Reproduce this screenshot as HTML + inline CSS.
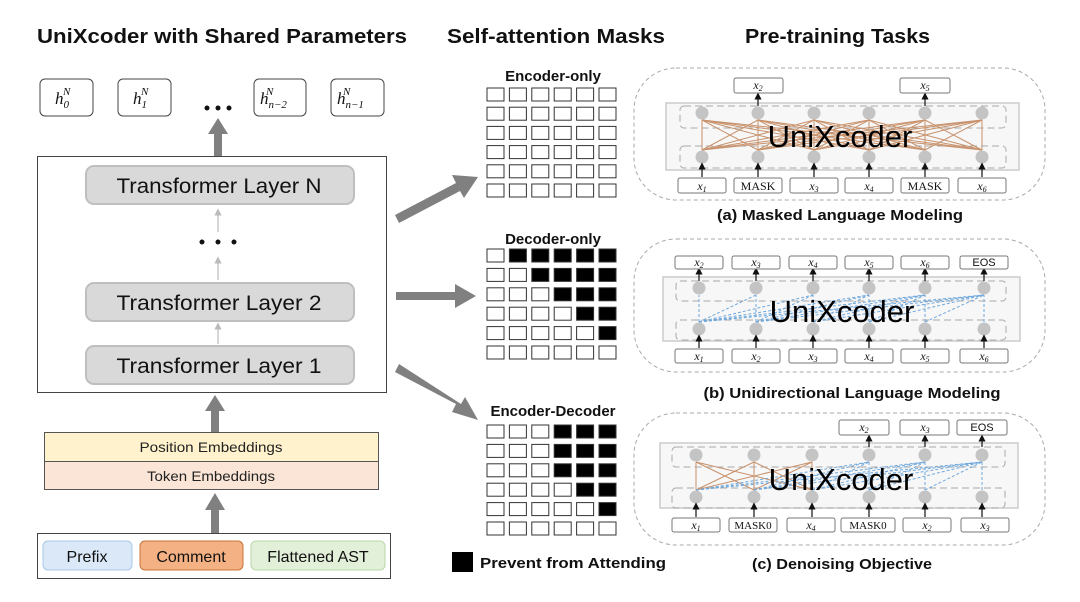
<!DOCTYPE html>
<html><head><meta charset="utf-8"><style>
body{margin:0;background:#fff}
svg{display:block;font-family:"Liberation Sans",sans-serif}
.t{font-weight:bold;fill:#111}
.m{font-family:"Liberation Serif",serif;font-style:italic}
</style></head><body>
<svg width="1080" height="602" viewBox="0 0 1080 602" xmlns="http://www.w3.org/2000/svg">
<defs>
<marker id="ah" markerWidth="6" markerHeight="6" refX="3" refY="3" orient="auto"><path d="M0,0L6,3L0,6z" fill="#111"/></marker>
<marker id="gh" markerWidth="6" markerHeight="6" refX="3" refY="3" orient="auto"><path d="M0,0L6,3L0,6z" fill="#bbb"/></marker>
</defs>
<text x="37" y="43" class="t" font-size="20" textLength="370" lengthAdjust="spacingAndGlyphs">UniXcoder with Shared Parameters</text>
<text x="447" y="43" class="t" font-size="20" textLength="218" lengthAdjust="spacingAndGlyphs">Self-attention Masks</text>
<text x="745" y="43" class="t" font-size="20" textLength="185" lengthAdjust="spacingAndGlyphs">Pre-training Tasks</text>

<g fill="#fff" stroke="#444" stroke-width="1">
<rect x="40" y="79" width="53" height="37" rx="5"/><rect x="118" y="79" width="53" height="37" rx="5"/>
<rect x="254" y="79" width="52" height="37" rx="5"/><rect x="331" y="79" width="53" height="37" rx="5"/>
</g>
<g class="m" font-size="17" fill="#111">
<text x="55" y="104">h<tspan font-size="11" dy="4">0</tspan><tspan font-size="11" dx="-6" dy="-13">N</tspan></text>
<text x="133" y="104">h<tspan font-size="11" dy="4">1</tspan><tspan font-size="11" dx="-6" dy="-13">N</tspan></text>
<text x="260" y="104">h<tspan font-size="11" dy="4">n−2</tspan><tspan font-size="11" dx="-21" dy="-13">N</tspan></text>
<text x="337" y="104">h<tspan font-size="11" dy="4">n−1</tspan><tspan font-size="11" dx="-21" dy="-13">N</tspan></text>
</g>
<g fill="#111"><circle cx="207" cy="108" r="2.5"/><circle cx="218" cy="108" r="2.5"/><circle cx="229" cy="108" r="2.5"/></g>
<g fill="#808080">
<rect x="214" y="133" width="8" height="24"/><path d="M208,134L218,118L228,134z"/>
<rect x="211" y="410" width="8" height="24"/><path d="M205,411L215,395L225,411z"/>
<rect x="211" y="508" width="8" height="26"/><path d="M205,510L215,493L225,510z"/>
</g>
<rect x="37.5" y="156.5" width="349" height="236" fill="#fff" stroke="#444"/>
<g fill="#d9d9d9" stroke="#bfbfbf" stroke-width="2">
<rect x="86" y="166" width="268" height="38" rx="8"/>
<rect x="86" y="283" width="268" height="38" rx="8"/>
<rect x="86" y="346" width="268" height="38" rx="8"/>
</g>
<g font-size="21" fill="#111" text-anchor="middle">
<text x="219" y="193" textLength="205" lengthAdjust="spacingAndGlyphs">Transformer Layer N</text>
<text x="219" y="310" textLength="205" lengthAdjust="spacingAndGlyphs">Transformer Layer 2</text>
<text x="219" y="373" textLength="205" lengthAdjust="spacingAndGlyphs">Transformer Layer 1</text>
</g>
<g stroke="#bbb" stroke-width="1.2" marker-end="url(#gh)">
<line x1="218" y1="232" x2="218" y2="212"/><line x1="218" y1="280" x2="218" y2="260"/><line x1="218" y1="344" x2="218" y2="326"/>
</g>
<g fill="#111"><circle cx="202" cy="242" r="2.5"/><circle cx="218" cy="242" r="2.5"/><circle cx="234" cy="242" r="2.5"/></g>
<rect x="44.5" y="432.5" width="334" height="29" fill="#fff2cc" stroke="#555"/>
<rect x="44.5" y="461.5" width="334" height="28" fill="#fbe5d6" stroke="#555"/>
<text x="211" y="452" font-size="14" text-anchor="middle" fill="#222" textLength="143" lengthAdjust="spacingAndGlyphs">Position Embeddings</text>
<text x="211" y="481" font-size="14" text-anchor="middle" fill="#222" textLength="128" lengthAdjust="spacingAndGlyphs">Token Embeddings</text>
<rect x="37.5" y="533.5" width="353" height="45" fill="#fff" stroke="#444"/>
<rect x="43" y="541" width="89" height="29" rx="5" fill="#dae8f7" stroke="#a9c8ea"/>
<rect x="140" y="541" width="103" height="29" rx="5" fill="#f4b183" stroke="#c9733a"/>
<rect x="251" y="541" width="134" height="29" rx="5" fill="#e2efd9" stroke="#b8d8a8"/>
<g font-size="16" fill="#111" text-anchor="middle">
<text x="87" y="562">Prefix</text><text x="191" y="562">Comment</text><text x="318" y="562">Flattened AST</text>
</g>
<g fill="#808080">
<path d="M395,215L456,183L452,175L478,177L464,198L460,191L399,223z"/>
<path d="M396,292L455,292L455,284L476,296L455,308L455,300L396,300z"/>
<path d="M395,372L456,404L452,412L478,420L465,397L461,404L399,364z"/>
</g>
<g class="t" font-size="15" text-anchor="middle">
<text x="553" y="81">Encoder-only</text>
<text x="553" y="244">Decoder-only</text>
<text x="553" y="416">Encoder-Decoder</text>
</g>
<g fill="#fff" stroke="#333" stroke-width="1">
<g>
<rect x="487" y="88" width="17" height="13"/><rect x="509.4" y="88" width="17" height="13"/><rect x="531.8" y="88" width="17" height="13"/><rect x="554.2" y="88" width="17" height="13"/><rect x="576.6" y="88" width="17" height="13"/><rect x="599" y="88" width="17" height="13"/>
<rect x="487" y="107.2" width="17" height="13"/><rect x="509.4" y="107.2" width="17" height="13"/><rect x="531.8" y="107.2" width="17" height="13"/><rect x="554.2" y="107.2" width="17" height="13"/><rect x="576.6" y="107.2" width="17" height="13"/><rect x="599" y="107.2" width="17" height="13"/>
<rect x="487" y="126.4" width="17" height="13"/><rect x="509.4" y="126.4" width="17" height="13"/><rect x="531.8" y="126.4" width="17" height="13"/><rect x="554.2" y="126.4" width="17" height="13"/><rect x="576.6" y="126.4" width="17" height="13"/><rect x="599" y="126.4" width="17" height="13"/>
<rect x="487" y="145.6" width="17" height="13"/><rect x="509.4" y="145.6" width="17" height="13"/><rect x="531.8" y="145.6" width="17" height="13"/><rect x="554.2" y="145.6" width="17" height="13"/><rect x="576.6" y="145.6" width="17" height="13"/><rect x="599" y="145.6" width="17" height="13"/>
<rect x="487" y="164.8" width="17" height="13"/><rect x="509.4" y="164.8" width="17" height="13"/><rect x="531.8" y="164.8" width="17" height="13"/><rect x="554.2" y="164.8" width="17" height="13"/><rect x="576.6" y="164.8" width="17" height="13"/><rect x="599" y="164.8" width="17" height="13"/>
<rect x="487" y="184" width="17" height="13"/><rect x="509.4" y="184" width="17" height="13"/><rect x="531.8" y="184" width="17" height="13"/><rect x="554.2" y="184" width="17" height="13"/><rect x="576.6" y="184" width="17" height="13"/><rect x="599" y="184" width="17" height="13"/>
</g>
<g>
<rect x="487" y="249" width="17" height="13"/><rect x="509.4" y="249" width="17" height="13" fill="#000"/><rect x="531.8" y="249" width="17" height="13" fill="#000"/><rect x="554.2" y="249" width="17" height="13" fill="#000"/><rect x="576.6" y="249" width="17" height="13" fill="#000"/><rect x="599" y="249" width="17" height="13" fill="#000"/>
<rect x="487" y="268.4" width="17" height="13"/><rect x="509.4" y="268.4" width="17" height="13"/><rect x="531.8" y="268.4" width="17" height="13" fill="#000"/><rect x="554.2" y="268.4" width="17" height="13" fill="#000"/><rect x="576.6" y="268.4" width="17" height="13" fill="#000"/><rect x="599" y="268.4" width="17" height="13" fill="#000"/>
<rect x="487" y="287.8" width="17" height="13"/><rect x="509.4" y="287.8" width="17" height="13"/><rect x="531.8" y="287.8" width="17" height="13"/><rect x="554.2" y="287.8" width="17" height="13" fill="#000"/><rect x="576.6" y="287.8" width="17" height="13" fill="#000"/><rect x="599" y="287.8" width="17" height="13" fill="#000"/>
<rect x="487" y="307.2" width="17" height="13"/><rect x="509.4" y="307.2" width="17" height="13"/><rect x="531.8" y="307.2" width="17" height="13"/><rect x="554.2" y="307.2" width="17" height="13"/><rect x="576.6" y="307.2" width="17" height="13" fill="#000"/><rect x="599" y="307.2" width="17" height="13" fill="#000"/>
<rect x="487" y="326.6" width="17" height="13"/><rect x="509.4" y="326.6" width="17" height="13"/><rect x="531.8" y="326.6" width="17" height="13"/><rect x="554.2" y="326.6" width="17" height="13"/><rect x="576.6" y="326.6" width="17" height="13"/><rect x="599" y="326.6" width="17" height="13" fill="#000"/>
<rect x="487" y="346" width="17" height="13"/><rect x="509.4" y="346" width="17" height="13"/><rect x="531.8" y="346" width="17" height="13"/><rect x="554.2" y="346" width="17" height="13"/><rect x="576.6" y="346" width="17" height="13"/><rect x="599" y="346" width="17" height="13"/>
</g>
<g>
<rect x="487" y="425" width="17" height="13"/><rect x="509.4" y="425" width="17" height="13"/><rect x="531.8" y="425" width="17" height="13"/><rect x="554.2" y="425" width="17" height="13" fill="#000"/><rect x="576.6" y="425" width="17" height="13" fill="#000"/><rect x="599" y="425" width="17" height="13" fill="#000"/>
<rect x="487" y="444.4" width="17" height="13"/><rect x="509.4" y="444.4" width="17" height="13"/><rect x="531.8" y="444.4" width="17" height="13"/><rect x="554.2" y="444.4" width="17" height="13" fill="#000"/><rect x="576.6" y="444.4" width="17" height="13" fill="#000"/><rect x="599" y="444.4" width="17" height="13" fill="#000"/>
<rect x="487" y="463.8" width="17" height="13"/><rect x="509.4" y="463.8" width="17" height="13"/><rect x="531.8" y="463.8" width="17" height="13"/><rect x="554.2" y="463.8" width="17" height="13" fill="#000"/><rect x="576.6" y="463.8" width="17" height="13" fill="#000"/><rect x="599" y="463.8" width="17" height="13" fill="#000"/>
<rect x="487" y="483.2" width="17" height="13"/><rect x="509.4" y="483.2" width="17" height="13"/><rect x="531.8" y="483.2" width="17" height="13"/><rect x="554.2" y="483.2" width="17" height="13"/><rect x="576.6" y="483.2" width="17" height="13" fill="#000"/><rect x="599" y="483.2" width="17" height="13" fill="#000"/>
<rect x="487" y="502.6" width="17" height="13"/><rect x="509.4" y="502.6" width="17" height="13"/><rect x="531.8" y="502.6" width="17" height="13"/><rect x="554.2" y="502.6" width="17" height="13"/><rect x="576.6" y="502.6" width="17" height="13"/><rect x="599" y="502.6" width="17" height="13" fill="#000"/>
<rect x="487" y="522" width="17" height="13"/><rect x="509.4" y="522" width="17" height="13"/><rect x="531.8" y="522" width="17" height="13"/><rect x="554.2" y="522" width="17" height="13"/><rect x="576.6" y="522" width="17" height="13"/><rect x="599" y="522" width="17" height="13"/>
</g>
</g>
<rect x="452" y="552" width="21" height="20" fill="#000"/>
<text x="480" y="568" class="t" font-size="15" textLength="186" lengthAdjust="spacingAndGlyphs">Prevent from Attending</text>

<!-- Panel (a) -->
<rect x="634" y="68" width="411" height="132" rx="42" fill="none" stroke="#aaa" stroke-dasharray="4,3"/>
<rect x="666" y="103" width="353" height="67" fill="#f7f7f7" stroke="#ccc" stroke-width="1.5"/>
<g fill="none" stroke="#aaa" stroke-dasharray="7,4"><rect x="680" y="106" width="326" height="22" rx="4"/><rect x="680" y="146" width="326" height="22" rx="4"/></g>
<g stroke="#c8926c" stroke-width="1">
<line x1="702" y1="120" x2="702" y2="150"/><line x1="702" y1="120" x2="758" y2="150"/><line x1="702" y1="120" x2="814" y2="150"/><line x1="702" y1="120" x2="869" y2="150"/><line x1="702" y1="120" x2="925" y2="150"/><line x1="702" y1="120" x2="982" y2="150"/>
<line x1="758" y1="120" x2="702" y2="150"/><line x1="758" y1="120" x2="758" y2="150"/><line x1="758" y1="120" x2="814" y2="150"/><line x1="758" y1="120" x2="869" y2="150"/><line x1="758" y1="120" x2="925" y2="150"/><line x1="758" y1="120" x2="982" y2="150"/>
<line x1="814" y1="120" x2="702" y2="150"/><line x1="814" y1="120" x2="758" y2="150"/><line x1="814" y1="120" x2="814" y2="150"/><line x1="814" y1="120" x2="869" y2="150"/><line x1="814" y1="120" x2="925" y2="150"/><line x1="814" y1="120" x2="982" y2="150"/>
<line x1="869" y1="120" x2="702" y2="150"/><line x1="869" y1="120" x2="758" y2="150"/><line x1="869" y1="120" x2="814" y2="150"/><line x1="869" y1="120" x2="869" y2="150"/><line x1="869" y1="120" x2="925" y2="150"/><line x1="869" y1="120" x2="982" y2="150"/>
<line x1="925" y1="120" x2="702" y2="150"/><line x1="925" y1="120" x2="758" y2="150"/><line x1="925" y1="120" x2="814" y2="150"/><line x1="925" y1="120" x2="869" y2="150"/><line x1="925" y1="120" x2="925" y2="150"/><line x1="925" y1="120" x2="982" y2="150"/>
<line x1="982" y1="120" x2="702" y2="150"/><line x1="982" y1="120" x2="758" y2="150"/><line x1="982" y1="120" x2="814" y2="150"/><line x1="982" y1="120" x2="869" y2="150"/><line x1="982" y1="120" x2="925" y2="150"/><line x1="982" y1="120" x2="982" y2="150"/>
</g>
<g fill="#c4c4c4">
<circle cx="702" cy="113" r="6.5"/><circle cx="758" cy="113" r="6.5"/><circle cx="814" cy="113" r="6.5"/><circle cx="869" cy="113" r="6.5"/><circle cx="925" cy="113" r="6.5"/><circle cx="982" cy="113" r="6.5"/>
<circle cx="702" cy="157" r="6.5"/><circle cx="758" cy="157" r="6.5"/><circle cx="814" cy="157" r="6.5"/><circle cx="869" cy="157" r="6.5"/><circle cx="925" cy="157" r="6.5"/><circle cx="982" cy="157" r="6.5"/>
</g>
<g stroke="#111" stroke-width="1.2" marker-end="url(#ah)">
<line x1="702" y1="177" x2="702" y2="166"/><line x1="758" y1="177" x2="758" y2="166"/><line x1="814" y1="177" x2="814" y2="166"/><line x1="869" y1="177" x2="869" y2="166"/><line x1="925" y1="177" x2="925" y2="166"/><line x1="982" y1="177" x2="982" y2="166"/>
<line x1="758" y1="106" x2="758" y2="96"/><line x1="925" y1="106" x2="925" y2="96"/>
</g>
<g fill="#fff" stroke="#777">
<rect x="678" y="178" width="48" height="15" rx="2"/><rect x="734" y="178" width="48" height="15" rx="2"/><rect x="790" y="178" width="48" height="15" rx="2"/><rect x="845" y="178" width="48" height="15" rx="2"/><rect x="901" y="178" width="48" height="15" rx="2"/><rect x="958" y="178" width="48" height="15" rx="2"/>
<rect x="734" y="78" width="49" height="15" rx="2"/><rect x="900" y="78" width="50" height="15" rx="2"/>
</g>
<text x="840" y="147" font-size="31" text-anchor="middle" fill="#000">UniXcoder</text>
<g font-size="12" text-anchor="middle" fill="#111">
<text x="702" y="190" class="m">x<tspan font-size="8" dy="2">1</tspan></text><text x="758" y="190" font-family="Liberation Serif">MASK</text><text x="814" y="190" class="m">x<tspan font-size="8" dy="2">3</tspan></text><text x="869" y="190" class="m">x<tspan font-size="8" dy="2">4</tspan></text><text x="925" y="190" font-family="Liberation Serif">MASK</text><text x="982" y="190" class="m">x<tspan font-size="8" dy="2">6</tspan></text>
<text x="758" y="89" class="m">x<tspan font-size="8" dy="2">2</tspan></text><text x="925" y="89" class="m">x<tspan font-size="8" dy="2">5</tspan></text>
</g>
<text x="840" y="220" class="t" font-size="15" text-anchor="middle" textLength="246" lengthAdjust="spacingAndGlyphs">(a) Masked Language Modeling</text>

<!-- Panel (b) -->
<rect x="634" y="239" width="411" height="133" rx="42" fill="none" stroke="#aaa" stroke-dasharray="4,3"/>
<rect x="663" y="277" width="357" height="64" fill="#f7f7f7" stroke="#ccc" stroke-width="1.5"/>
<g fill="none" stroke="#aaa" stroke-dasharray="7,4"><rect x="676" y="281" width="330" height="20" rx="4"/><rect x="676" y="320" width="330" height="20" rx="4"/></g>
<g stroke="#6fa8dc" stroke-width="1" stroke-dasharray="3,2">
<line x1="699" y1="322" x2="699" y2="295"/><line x1="699" y1="322" x2="756" y2="295"/><line x1="699" y1="322" x2="813" y2="295"/><line x1="699" y1="322" x2="869" y2="295"/><line x1="699" y1="322" x2="925" y2="295"/><line x1="699" y1="322" x2="984" y2="295"/>
<line x1="756" y1="322" x2="756" y2="295"/><line x1="756" y1="322" x2="813" y2="295"/><line x1="756" y1="322" x2="869" y2="295"/><line x1="756" y1="322" x2="925" y2="295"/><line x1="756" y1="322" x2="984" y2="295"/>
<line x1="813" y1="322" x2="813" y2="295"/><line x1="813" y1="322" x2="869" y2="295"/><line x1="813" y1="322" x2="925" y2="295"/><line x1="813" y1="322" x2="984" y2="295"/>
<line x1="869" y1="322" x2="869" y2="295"/><line x1="869" y1="322" x2="925" y2="295"/><line x1="869" y1="322" x2="984" y2="295"/>
<line x1="925" y1="322" x2="925" y2="295"/><line x1="925" y1="322" x2="984" y2="295"/>
<line x1="984" y1="322" x2="984" y2="295"/>
</g>
<g fill="#c4c4c4">
<circle cx="699" cy="288" r="6.5"/><circle cx="756" cy="288" r="6.5"/><circle cx="813" cy="288" r="6.5"/><circle cx="869" cy="288" r="6.5"/><circle cx="925" cy="288" r="6.5"/><circle cx="984" cy="288" r="6.5"/>
<circle cx="699" cy="329" r="6.5"/><circle cx="756" cy="329" r="6.5"/><circle cx="813" cy="329" r="6.5"/><circle cx="869" cy="329" r="6.5"/><circle cx="925" cy="329" r="6.5"/><circle cx="984" cy="329" r="6.5"/>
</g>
<g stroke="#111" stroke-width="1.2" marker-end="url(#ah)">
<line x1="699" y1="348" x2="699" y2="338"/><line x1="756" y1="348" x2="756" y2="338"/><line x1="813" y1="348" x2="813" y2="338"/><line x1="869" y1="348" x2="869" y2="338"/><line x1="925" y1="348" x2="925" y2="338"/><line x1="984" y1="348" x2="984" y2="338"/>
<line x1="699" y1="281" x2="699" y2="271"/><line x1="756" y1="281" x2="756" y2="271"/><line x1="813" y1="281" x2="813" y2="271"/><line x1="869" y1="281" x2="869" y2="271"/><line x1="925" y1="281" x2="925" y2="271"/><line x1="984" y1="281" x2="984" y2="271"/>
</g>
<g fill="#fff" stroke="#777">
<rect x="675" y="349" width="48" height="14" rx="2"/><rect x="732" y="349" width="48" height="14" rx="2"/><rect x="789" y="349" width="48" height="14" rx="2"/><rect x="845" y="349" width="48" height="14" rx="2"/><rect x="901" y="349" width="48" height="14" rx="2"/><rect x="960" y="349" width="48" height="14" rx="2"/>
<rect x="675" y="256" width="48" height="13" rx="2"/><rect x="732" y="256" width="48" height="13" rx="2"/><rect x="789" y="256" width="48" height="13" rx="2"/><rect x="845" y="256" width="48" height="13" rx="2"/><rect x="901" y="256" width="48" height="13" rx="2"/><rect x="960" y="256" width="48" height="13" rx="2"/>
</g>
<text x="842" y="322" font-size="31" text-anchor="middle" fill="#000">UniXcoder</text>
<g font-size="12" text-anchor="middle" fill="#111">
<text x="699" y="360" class="m">x<tspan font-size="8" dy="2">1</tspan></text><text x="756" y="360" class="m">x<tspan font-size="8" dy="2">2</tspan></text><text x="813" y="360" class="m">x<tspan font-size="8" dy="2">3</tspan></text><text x="869" y="360" class="m">x<tspan font-size="8" dy="2">4</tspan></text><text x="925" y="360" class="m">x<tspan font-size="8" dy="2">5</tspan></text><text x="984" y="360" class="m">x<tspan font-size="8" dy="2">6</tspan></text>
<text x="699" y="266" class="m">x<tspan font-size="8" dy="2">2</tspan></text><text x="756" y="266" class="m">x<tspan font-size="8" dy="2">3</tspan></text><text x="813" y="266" class="m">x<tspan font-size="8" dy="2">4</tspan></text><text x="869" y="266" class="m">x<tspan font-size="8" dy="2">5</tspan></text><text x="925" y="266" class="m">x<tspan font-size="8" dy="2">6</tspan></text><text x="984" y="266" font-size="11">EOS</text>
</g>
<text x="852" y="398" class="t" font-size="15" text-anchor="middle" textLength="297" lengthAdjust="spacingAndGlyphs">(b) Unidirectional Language Modeling</text>

<!-- Panel (c) -->
<rect x="634" y="413" width="411" height="132" rx="42" fill="none" stroke="#aaa" stroke-dasharray="4,3"/>
<rect x="660" y="443" width="358" height="65" fill="#f7f7f7" stroke="#ccc" stroke-width="1.5"/>
<g fill="none" stroke="#aaa" stroke-dasharray="7,4"><rect x="672" y="447" width="333" height="20" rx="4"/><rect x="672" y="488" width="333" height="20" rx="4"/></g>
<g stroke="#c8926c" stroke-width="1">
<line x1="696" y1="490" x2="696" y2="462"/><line x1="696" y1="490" x2="754" y2="462"/><line x1="696" y1="490" x2="812" y2="462"/>
<line x1="754" y1="490" x2="696" y2="462"/><line x1="754" y1="490" x2="754" y2="462"/><line x1="754" y1="490" x2="812" y2="462"/>
<line x1="812" y1="490" x2="696" y2="462"/><line x1="812" y1="490" x2="754" y2="462"/><line x1="812" y1="490" x2="812" y2="462"/>
</g>
<g stroke="#6fa8dc" stroke-width="1" stroke-dasharray="3,2">
<line x1="696" y1="490" x2="869" y2="462"/><line x1="696" y1="490" x2="925" y2="462"/><line x1="696" y1="490" x2="982" y2="462"/>
<line x1="754" y1="490" x2="869" y2="462"/><line x1="754" y1="490" x2="925" y2="462"/><line x1="754" y1="490" x2="982" y2="462"/>
<line x1="812" y1="490" x2="869" y2="462"/><line x1="812" y1="490" x2="925" y2="462"/><line x1="812" y1="490" x2="982" y2="462"/>
<line x1="869" y1="490" x2="869" y2="462"/><line x1="869" y1="490" x2="925" y2="462"/><line x1="869" y1="490" x2="982" y2="462"/>
<line x1="925" y1="490" x2="925" y2="462"/><line x1="925" y1="490" x2="982" y2="462"/>
<line x1="982" y1="490" x2="982" y2="462"/>
</g>
<g fill="#c4c4c4">
<circle cx="696" cy="455" r="6.5"/><circle cx="754" cy="455" r="6.5"/><circle cx="812" cy="455" r="6.5"/><circle cx="869" cy="455" r="6.5"/><circle cx="925" cy="455" r="6.5"/><circle cx="982" cy="455" r="6.5"/>
<circle cx="696" cy="497" r="6.5"/><circle cx="754" cy="497" r="6.5"/><circle cx="812" cy="497" r="6.5"/><circle cx="869" cy="497" r="6.5"/><circle cx="925" cy="497" r="6.5"/><circle cx="982" cy="497" r="6.5"/>
</g>
<g stroke="#111" stroke-width="1.2" marker-end="url(#ah)">
<line x1="696" y1="517" x2="696" y2="506"/><line x1="754" y1="517" x2="754" y2="506"/><line x1="812" y1="517" x2="812" y2="506"/><line x1="869" y1="517" x2="869" y2="506"/><line x1="925" y1="517" x2="925" y2="506"/><line x1="982" y1="517" x2="982" y2="506"/>
<line x1="869" y1="447" x2="869" y2="438"/><line x1="925" y1="447" x2="925" y2="438"/><line x1="982" y1="447" x2="982" y2="438"/>
</g>
<g fill="#fff" stroke="#777">
<rect x="672" y="518" width="48" height="14" rx="2"/><rect x="729" y="518" width="48" height="14" rx="2"/><rect x="787" y="518" width="48" height="14" rx="2"/><rect x="841" y="518" width="54" height="14" rx="2"/><rect x="903" y="518" width="48" height="14" rx="2"/><rect x="961" y="518" width="48" height="14" rx="2"/>
<rect x="839" y="420" width="50" height="15" rx="2"/><rect x="900" y="420" width="49" height="15" rx="2"/><rect x="957" y="420" width="50" height="15" rx="2"/>
</g>
<text x="841" y="490" font-size="31" text-anchor="middle" fill="#000">UniXcoder</text>
<g font-size="12" text-anchor="middle" fill="#111">
<text x="696" y="529" class="m">x<tspan font-size="8" dy="2">1</tspan></text><text x="753" y="529" font-family="Liberation Serif" font-size="11">MASK0</text><text x="811" y="529" class="m">x<tspan font-size="8" dy="2">4</tspan></text><text x="868" y="529" font-family="Liberation Serif" font-size="11">MASK0</text><text x="927" y="529" class="m">x<tspan font-size="8" dy="2">2</tspan></text><text x="985" y="529" class="m">x<tspan font-size="8" dy="2">3</tspan></text>
<text x="864" y="431" class="m">x<tspan font-size="8" dy="2">2</tspan></text><text x="925" y="431" class="m">x<tspan font-size="8" dy="2">3</tspan></text><text x="982" y="431" font-size="11">EOS</text>
</g>
<text x="842" y="569" class="t" font-size="15" text-anchor="middle" textLength="180" lengthAdjust="spacingAndGlyphs">(c) Denoising Objective</text>
</svg>
</body></html>
